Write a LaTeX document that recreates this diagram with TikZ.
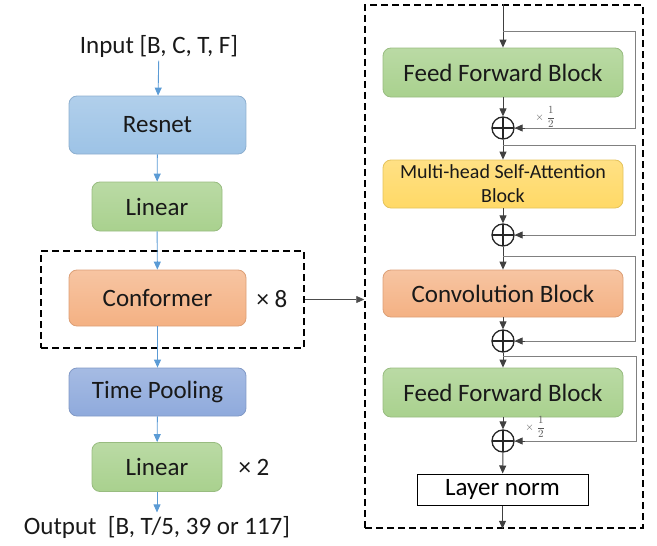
\documentclass[tikz,border=0pt]{standalone}
\usepackage{fontspec}
\usepackage{amsmath}
\setmainfont{Carlito}
\usetikzlibrary{positioning}
\usetikzlibrary{calc}
\usetikzlibrary{arrows.meta}
\definecolor{resblue}{HTML}{9DC3E6}
\definecolor{lingreen}{HTML}{A9D18E}
\definecolor{confor}{HTML}{F4B183}
\definecolor{poolblue}{HTML}{8FAADC}
\definecolor{attyel}{HTML}{FFD966}
\definecolor{flowblue}{HTML}{5B9BD5}
\tikzset{
  block/.style={rounded corners=8pt, draw, line width=0.8pt, inner sep=2pt,
    font=\fontsize{25}{27}\selectfont, text=black!90},
  oplus/.style={circle, draw=black!85, line width=1.3pt, minimum size=22pt, inner sep=0pt,
    path picture={\draw[line width=1.3pt, black!85]
      (path picture bounding box.north) -- (path picture bounding box.south)
      (path picture bounding box.west) -- (path picture bounding box.east);}},
  group/.style={draw, dashed, dash pattern=on 7pt off 4pt, line width=1.5pt, inner sep=0pt}
}

\begin{document}
\begin{tikzpicture}
    [x=1pt, y=-1pt, >={Triangle[length=8pt,width=7pt]},
     resnet/.style={block, top color=resblue!80, bottom color=resblue, draw=resblue!90!black, minimum width=177pt, minimum height=58pt},
     linear/.style={block, top color=lingreen!80, bottom color=lingreen, draw=lingreen!90!black, minimum width=130pt, minimum height=49pt},
     conformer/.style={block, top color=confor!75, bottom color=confor, draw=confor!90!black, minimum width=177pt, minimum height=56pt},
     pooling/.style={block, top color=poolblue!80, bottom color=poolblue, draw=poolblue!90!black, minimum width=177pt, minimum height=48pt},
     ffblock/.style={block, top color=lingreen!80, bottom color=lingreen, draw=lingreen!90!black, minimum width=240pt, minimum height=49pt},
     attblock/.style={block, top color=attyel!80, bottom color=attyel, draw=attyel!90!black, minimum width=240pt, minimum height=48pt,
       align=center, font=\fontsize{20}{24}\selectfont},
     convblock/.style={block, top color=confor!75, bottom color=confor, draw=confor!90!black, minimum width=240pt, minimum height=47pt},
     normblock/.style={draw, line width=1pt, fill=white, minimum width=171pt, minimum height=31pt, inner sep=0pt,
       font=\fontsize{25}{27}\selectfont},
     flow/.style={->, line width=0.9pt, flowblue},
     rarrow/.style={->, line width=1pt, black!75},
     rline/.style={line width=1pt, black!50},
     lbl/.style={font=\fontsize{25}{27}\selectfont, text=black!90},
     half/.style={font=\fontsize{11}{13}\selectfont, text=black!65, inner sep=1pt}]
     \useasboundingbox (0,0) rectangle (657,546);
     % left column
     \node[lbl] (in) at (159, 46) {Input [B, C, T, F]};
     \node[resnet] (res) at (157.5, 125) {Resnet};
     \node[linear] (lin1) at (157, 206.5) {Linear};
     \node[group, minimum width=263pt, minimum height=97pt] (confgrp) at (172.5, 299.5) {};
     \node[conformer] (conf) at (157.5, 298) {Conformer};
     \node[lbl] (x8) at (272, 299) {× 8};
     \node[pooling] (tp) at (157.5, 392) {Time Pooling};
     \node[linear] (lin2) at (157, 467) {Linear};
     \node[lbl] (x2) at (254, 467) {× 2};
     \node[lbl] (out) at (157, 527) {Output\ \ [B, T/5, 39 or 117]};
     \draw[flow] (in) -- (res);
     \draw[flow] (res) -- (lin1);
     \draw[flow] (lin1) -- (conf);
     \draw[flow] (conf) -- (tp);
     \draw[flow] (tp) -- (lin2);
     \draw[flow] (lin2) -- (out);
     % conformer block
     \node[group, minimum width=278pt, minimum height=523pt] (enc) at (504, 266.5) {};
     \node[ffblock] (ff1) at (503, 72.5) {Feed Forward Block};
     \node[oplus] (c1) at (503, 128) {};
     \node[attblock] (mhsa) at (503, 184) {Multi-head Self-Attention\\Block};
     \node[oplus] (c2) at (503, 235) {};
     \node[convblock] (conv) at (503, 293.5) {Convolution Block};
     \node[oplus] (c3) at (503, 341) {};
     \node[ffblock] (ff2) at (503, 392.5) {Feed Forward Block};
     \node[oplus] (c4) at (503, 441) {};
     \node[normblock] (ln) at (502.5, 489.5) {Layer norm};
     \node[half] (h1) at (545, 117) {$\times\;\dfrac{1}{2}$};
     \node[half] (h2) at (535, 427) {$\times\;\dfrac{1}{2}$};
     \draw[line width=0.8pt, black!70, ->] (confgrp.east) -- (confgrp.east -| enc.west);
     \draw[rarrow] (enc.north -| ff1) -- (ff1.north);
     \draw[rarrow] (ff1) -- (c1);
     \draw[rarrow] (c1) -- (mhsa);
     \draw[rarrow] (mhsa) -- (c2);
     \draw[rarrow] (c2) -- (conv);
     \draw[rarrow] (conv) -- (c3);
     \draw[rarrow] (c3) -- (ff2);
     \draw[rarrow] (ff2) -- (c4);
     \draw[rarrow] (c4) -- (ln);
     \draw[rarrow] (ln.south) -- (ln.south |- enc.south);
     % residual paths
     \coordinate (s1) at (503, 31);
     \coordinate (s2) at (503, 145);
     \coordinate (s3) at (503, 256);
     \coordinate (s4) at (503, 356);
     \draw[rline] (s1) -- (635, 31) |- (c1);
     \draw[rline] (s2) -- (635, 145) |- (c2);
     \draw[rline] (s3) -- (635, 256) |- (c3);
     \draw[rline] (s4) -- (636, 356) |- (c4);
     \draw[rarrow] (c1.east) ++(10,0) -- (c1);
     \draw[rarrow] (c2.east) ++(10,0) -- (c2);
     \draw[rarrow] (c3.east) ++(10,0) -- (c3);
     \draw[rarrow] (c4.east) ++(10,0) -- (c4);
\end{tikzpicture}
\end{document}
